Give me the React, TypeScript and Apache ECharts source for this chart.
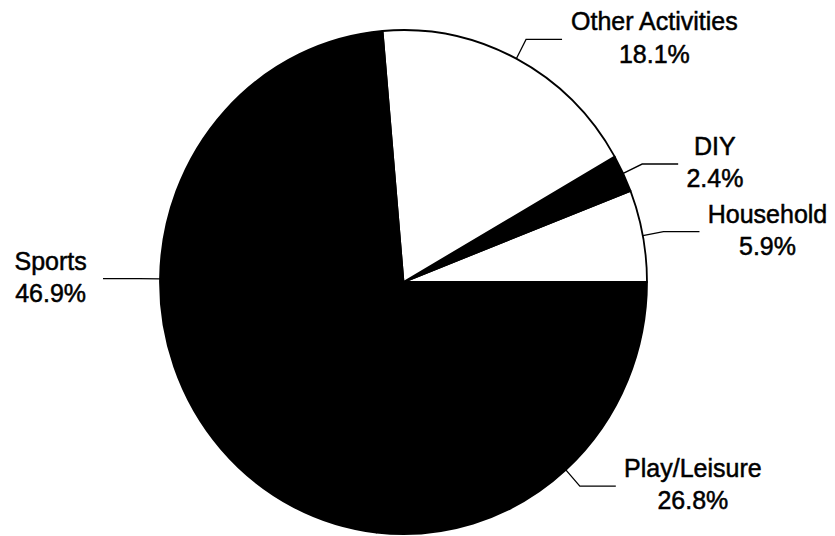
import React, { useEffect, useRef } from "react";
import * as echarts from "echarts";

const categories = ["Household", "DIY", "Other Activities", "Sports", "Play/Leisure"];
const values = [5.9, 2.4, 18.1, 46.9, 26.8];
const sliceColors = ["#ffffff", "#000000", "#ffffff", "#000000", "#000000"];

const SCALE_Y = 1.035;
const W = 835;
const H = 536 / SCALE_Y;

export default function App() {
  const ref = useRef<HTMLDivElement>(null);

  useEffect(() => {
    if (!ref.current) return;
    const chart = echarts.init(ref.current, undefined, { renderer: "svg" });
    const cx = 403.5;
    const cy = 272.5;
    chart.setOption({
      animation: false,
      backgroundColor: "#ffffff",
      series: [
        {
          type: "pie",
          center: [cx, cy],
          radius: 243.5,
          startAngle: 0,
          clockwise: false,
          avoidLabelOverlap: false,
          silent: true,
          data: categories.map((name, i) => ({
            name,
            value: values[i],
            itemStyle: { color: sliceColors[i] },
          })),
          itemStyle: { borderColor: "#000000", borderWidth: 1.8 },
          label: {
            show: true,
            position: "outside",
            formatter: (p: any) => `${p.name}\n${p.value}%`,
            fontFamily: "Liberation Sans, Arial, sans-serif",
            fontSize: 25,
            lineHeight: 31,
            color: "#000000",
            textBorderColor: "#000000",
            textBorderWidth: 0.5,
          },
          labelLine: {
            show: true,
            length: 21,
            length2: 36,
            smooth: false,
            lineStyle: { color: "#000000", width: 1.3 },
          },
          labelLayout: (params: any) => {
            const pts = params.labelLinePoints;
            if (!pts) return {};
            const end = pts[pts.length - 1];
            const w = params.labelRect.width;
            const isLeft = end[0] < cx;
            return {
              x: isLeft ? end[0] - 16 - w / 2 : end[0] + 8 + w / 2,
              y: end[1] - 2,
              align: "center",
              verticalAlign: "middle",
              labelLinePoints: pts,
            };
          },
        },
      ],
    });
    return () => chart.dispose();
  }, []);

  return (
    <div
      style={{
        position: "fixed",
        left: 0,
        top: 0,
        width: W,
        height: 536,
        background: "#ffffff",
        overflow: "hidden",
      }}
    >
      <div
        ref={ref}
        style={{
          width: W,
          height: H,
          transform: `scaleY(${SCALE_Y})`,
          transformOrigin: "0 0",
        }}
      />
    </div>
  );
}
